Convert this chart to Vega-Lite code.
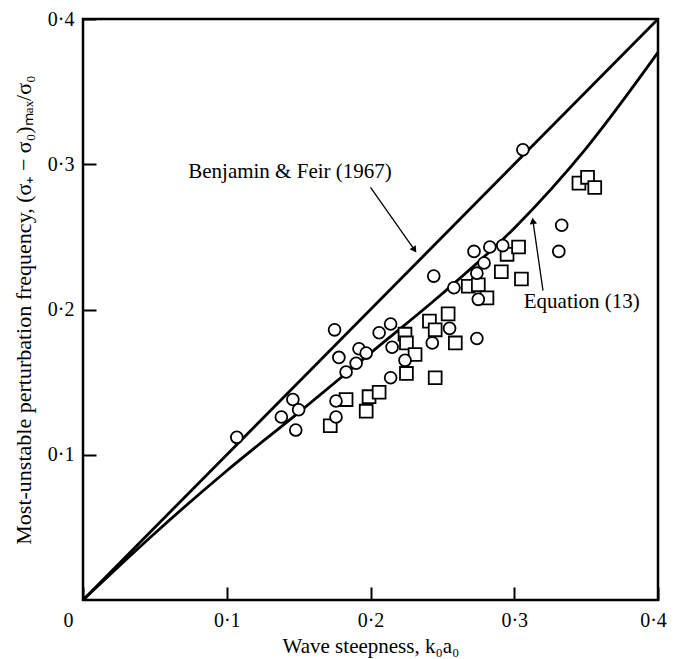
{
  "$schema": "https://vega.github.io/schema/vega-lite/v6.json",
  "width": 575,
  "height": 581,
  "autosize": {"type": "none"},
  "padding": {"left": 83, "top": 19, "right": 16, "bottom": 59},
  "background": "white",
  "config": {
    "view": {"stroke": "black", "strokeWidth": 2.5},
    "font": "Liberation Serif",
    "text": {"font": "Liberation Serif"}
  },
  "datasets": {
    "curves": [
      {"series": "BF", "x": 0, "y": 0},
      {"series": "BF", "x": 0.4, "y": 0.4},
      {"series": "Eq13", "x": 0, "y": 0},
      {"series": "Eq13", "x": 0.05, "y": 0.046},
      {"series": "Eq13", "x": 0.1, "y": 0.089},
      {"series": "Eq13", "x": 0.15, "y": 0.129},
      {"series": "Eq13", "x": 0.2, "y": 0.17},
      {"series": "Eq13", "x": 0.25, "y": 0.211},
      {"series": "Eq13", "x": 0.3, "y": 0.256},
      {"series": "Eq13", "x": 0.35, "y": 0.311},
      {"series": "Eq13", "x": 0.4, "y": 0.377}
    ],
    "circles": [
      {"x": 0.107, "y": 0.112}, {"x": 0.138, "y": 0.126}, {"x": 0.146, "y": 0.138},
      {"x": 0.150, "y": 0.131}, {"x": 0.148, "y": 0.117}, {"x": 0.175, "y": 0.186},
      {"x": 0.176, "y": 0.137}, {"x": 0.176, "y": 0.126}, {"x": 0.178, "y": 0.167},
      {"x": 0.183, "y": 0.157}, {"x": 0.190, "y": 0.163}, {"x": 0.192, "y": 0.173},
      {"x": 0.197, "y": 0.170}, {"x": 0.206, "y": 0.184}, {"x": 0.214, "y": 0.190},
      {"x": 0.215, "y": 0.174}, {"x": 0.214, "y": 0.153}, {"x": 0.224, "y": 0.165},
      {"x": 0.243, "y": 0.177}, {"x": 0.244, "y": 0.223}, {"x": 0.255, "y": 0.187},
      {"x": 0.258, "y": 0.215}, {"x": 0.272, "y": 0.240}, {"x": 0.274, "y": 0.225},
      {"x": 0.275, "y": 0.207}, {"x": 0.274, "y": 0.180}, {"x": 0.279, "y": 0.232},
      {"x": 0.283, "y": 0.243}, {"x": 0.292, "y": 0.244}, {"x": 0.306, "y": 0.310},
      {"x": 0.331, "y": 0.240}, {"x": 0.333, "y": 0.258}
    ],
    "squares": [
      {"x": 0.172, "y": 0.120}, {"x": 0.183, "y": 0.138}, {"x": 0.197, "y": 0.130},
      {"x": 0.199, "y": 0.140}, {"x": 0.206, "y": 0.143}, {"x": 0.224, "y": 0.183},
      {"x": 0.225, "y": 0.177}, {"x": 0.225, "y": 0.156}, {"x": 0.231, "y": 0.169},
      {"x": 0.241, "y": 0.192}, {"x": 0.245, "y": 0.186}, {"x": 0.245, "y": 0.153},
      {"x": 0.254, "y": 0.197}, {"x": 0.259, "y": 0.177}, {"x": 0.268, "y": 0.216},
      {"x": 0.275, "y": 0.217}, {"x": 0.281, "y": 0.208}, {"x": 0.291, "y": 0.226},
      {"x": 0.295, "y": 0.238}, {"x": 0.303, "y": 0.243}, {"x": 0.305, "y": 0.221},
      {"x": 0.345, "y": 0.287}, {"x": 0.351, "y": 0.291}, {"x": 0.356, "y": 0.284}
    ],
    "arrows": [
      {"name": "BF", "x": 0.2, "y": 0.284, "x2": 0.2306, "y2": 0.241},
      {"name": "Eq13", "x": 0.32, "y": 0.213, "x2": 0.313, "y2": 0.261}
    ],
    "labels": [
      {"label": "Benjamin & Feir (1967)", "x": 0.144, "y": 0.295},
      {"label": "Equation (13)", "x": 0.347, "y": 0.205}
    ]
  },
  "encoding": {
    "x": {
      "field": "x", "type": "quantitative",
      "scale": {"domain": [0, 0.4], "nice": false, "zero": false},
      "axis": {
        "values": [0, 0.1, 0.2, 0.3, 0.4],
        "title": "Wave steepness, k₀a₀",
        "domain": false, "grid": false,
        "tickSize": -13, "tickColor": "black", "tickWidth": 2,
        "labelExpr": "datum.value == 0 ? '0' : replace(format(datum.value, '.1f'), '.', '·')",
        "labelFont": "Liberation Serif", "labelFontSize": 20, "labelColor": "black",
        "labelPadding": 23, "labelFlush": false, "labelOverlap": false,
        "labelOffset": {"condition": [{"test": "datum.value == 0", "value": -15}, {"test": "datum.value == 0.4", "value": -5}], "value": 0},
        "titleFont": "Liberation Serif", "titleFontSize": 21, "titleFontWeight": "normal",
        "titleColor": "black", "titlePadding": 5
      }
    },
    "y": {
      "field": "y", "type": "quantitative",
      "scale": {"domain": [0, 0.4], "nice": false, "zero": false},
      "axis": {
        "values": [0.1, 0.2, 0.3, 0.4],
        "title": "Most-unstable perturbation frequency, (σ₊ − σ₀)ₘₐₓ/σ₀",
        "domain": false, "grid": false,
        "tickSize": -13, "tickColor": "black", "tickWidth": 2,
        "labelExpr": "replace(format(datum.value, '.1f'), '.', '·')",
        "labelFont": "Liberation Serif", "labelFontSize": 20, "labelColor": "black",
        "labelPadding": 22, "labelFlush": false, "labelOverlap": false,
        "titleFont": "Liberation Serif", "titleFontSize": 22, "titleFontWeight": "normal",
        "titleColor": "black", "titlePadding": 12
      }
    }
  },
  "layer": [
    {
      "data": {"name": "curves"},
      "mark": {"type": "line", "color": "black", "strokeWidth": 2.8, "interpolate": "monotone"},
      "encoding": {"detail": {"field": "series"}}
    },
    {
      "data": {"name": "arrows"},
      "mark": {"type": "rule", "color": "black", "strokeWidth": 1.3},
      "encoding": {"x2": {"field": "x2"}, "y2": {"field": "y2"}}
    },
    {
      "data": {"name": "arrows"},
      "transform": [{"filter": "datum.name == 'BF'"}],
      "mark": {"type": "point", "shape": "triangle-down", "filled": true, "color": "black", "size": 55, "angle": -34, "opacity": 1},
      "encoding": {"x": {"field": "x2", "type": "quantitative"}, "y": {"field": "y2", "type": "quantitative"}}
    },
    {
      "data": {"name": "arrows"},
      "transform": [{"filter": "datum.name == 'Eq13'"}],
      "mark": {"type": "point", "shape": "triangle-up", "filled": true, "color": "black", "size": 55, "angle": -8, "opacity": 1},
      "encoding": {"x": {"field": "x2", "type": "quantitative"}, "y": {"field": "y2", "type": "quantitative"}}
    },
    {
      "data": {"name": "squares"},
      "mark": {"type": "point", "shape": "square", "filled": true, "fill": "white", "stroke": "black", "strokeWidth": 1.8, "size": 165, "opacity": 1}
    },
    {
      "data": {"name": "circles"},
      "mark": {"type": "point", "shape": "circle", "filled": true, "fill": "white", "stroke": "black", "strokeWidth": 1.8, "size": 140, "opacity": 1}
    },
    {
      "data": {"name": "labels"},
      "mark": {"type": "text", "font": "Liberation Serif", "fontSize": 21, "color": "black", "align": "center", "baseline": "middle"},
      "encoding": {"text": {"field": "label"}}
    }
  ]
}
